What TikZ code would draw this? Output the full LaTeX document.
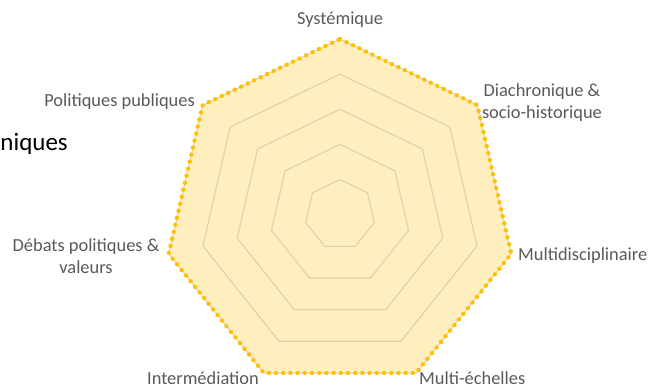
\documentclass[tikz,border=0pt]{standalone}
\usepackage{fontspec}
\setmainfont{Carlito}
\usepackage{xcolor}
\definecolor{ringgray}{HTML}{D9D9D9}
\definecolor{radargold}{HTML}{FFC000}
\definecolor{labelgray}{HTML}{595959}

\begin{document}
\begin{tikzpicture}[x=1pt, y=1pt,
	ring/.style={draw=ringgray, line width=1.2pt, line join=round},
	radarfill/.style={fill=radargold, fill opacity=0.25},
	radarline/.style={draw=radargold, line width=4.4pt, line cap=round, dash pattern=on 0pt off 7.2pt},
	axislabel/.style={text=labelgray, inner sep=0pt, font=\fontsize{18.4}{22}\selectfont}]
	\useasboundingbox (-340, -174.3) rectangle (314, 214.7);

	% grid rings
	\foreach \r in {1,...,5}
		\draw[ring] (90:{\r*35.14}) \foreach \k in {1,...,6} { -- ({90-\k*360/7}:{\r*35.14}) } -- cycle;

	% data area
	\foreach \k in {0,...,6}
		\coordinate (v\k) at ({90-\k*360/7}:175.7);
	\fill[radarfill] (v0) -- (v1) -- (v2) -- (v3) -- (v4) -- (v5) -- (v6) -- cycle;
	\draw[radarline] (v0) -- (v1) -- (v2) -- (v3) -- (v4) -- (v5) -- (v6) -- cycle;

	% axis labels
	\node[axislabel, anchor=base] (sys) at (0, 190.7) {Systémique};
	\node[axislabel, align=center] (diac) at (202, 112) {Diachronique \&\\socio-historique};
	\node[axislabel, anchor=base west] (multi) at (178, -46) {Multidisciplinaire};
	\node[axislabel, anchor=base west] (echelle) at (79, -169.3) {Multi-échelles};
	\node[axislabel, anchor=base east] (inter) at (-81, -169.6) {Intermédiation};
	\node[axislabel, align=center] (debat) at (-254, -41) {Débats politiques \&\\valeurs};
	\node[axislabel, anchor=base east] (polpub) at (-145, 108.7) {Politiques publiques};

	% slide title, cut off
	\node[inner sep=0pt, anchor=base east, font=\fontsize{25}{30}\selectfont] (titre) at (-272, 64.7) {niques};
\end{tikzpicture}
\end{document}
